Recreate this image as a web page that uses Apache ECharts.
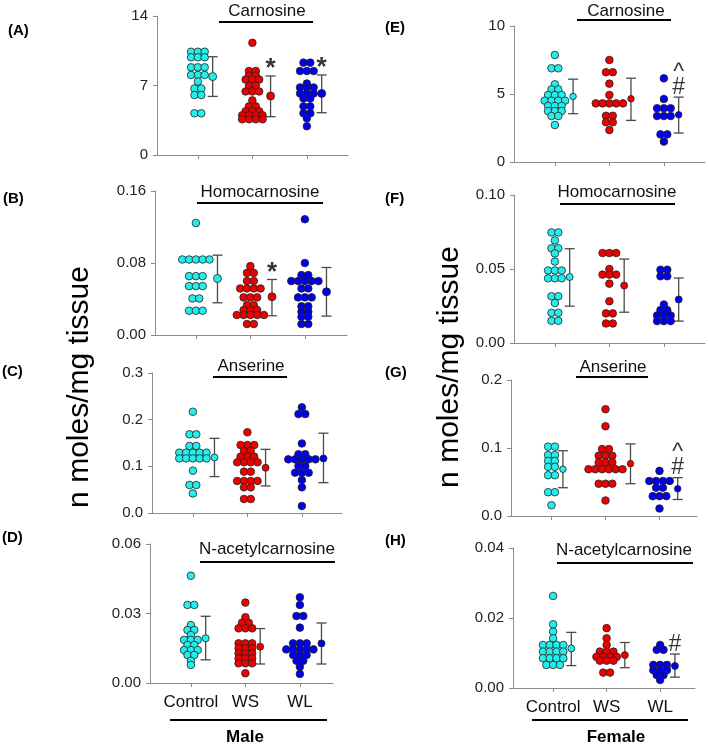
<!DOCTYPE html>
<html><head><meta charset="utf-8">
<script src="https://cdn.jsdelivr.net/npm/echarts@6/dist/echarts.min.js"></script>
<style>html,body{margin:0;padding:0;background:#fff}#c{width:709px;height:745px}</style>
</head><body><div id="c"></div>
<script>
// ---------------- DATA ----------------
const groups = ['Control', 'WS', 'WL'];
const groupColors = ['#22eeee', '#ee0000', '#0000ee'];

const yTicksA = ['0', '7', '14'];
const yTicksB = ['0.00', '0.08', '0.16'];
const yTicksC = ['0.0', '0.1', '0.2', '0.3'];
const yTicksD = ['0.00', '0.03', '0.06'];
const yTicksE = ['0', '5', '10'];
const yTicksF = ['0.00', '0.05', '0.10'];
const yTicksG = ['0.0', '0.1', '0.2'];
const yTicksH = ['0.00', '0.02', '0.04'];

// Male
const A_control = [10.4,10.4,10.4,9.84,9.84,9.84,8.83,8.83,8.83,8.06,8.06,8.06,7.4,6.7,6.7,6.04,6.04,4.2,4.2];
const A_ws = [11.3,8.46,8.46,8.0,8.0,7.6,7.6,7.6,7.0,7.0,6.4,6.4,6.4,5.5,4.9,4.9,4.4,4.4,4.4,4.0,4.0,4.0,4.0,3.6,3.6,3.6,3.6];
const A_wl = [9.3,9.3,8.46,8.46,8.46,7.2,6.8,6.8,6.8,6.2,6.2,6.2,5.7,5.7,4.9,4.9,4.2,4.2,3.7,2.9];
const A_mean = [7.9, 5.94, 6.2];
const A_hi = [9.9, 7.96, 8.06];
const A_lo = [5.9, 3.86, 4.26];
const A_sig = ['', '*', '*'];

const B_control = [0.1245,0.0839,0.0839,0.0839,0.0839,0.0839,0.0654,0.0654,0.0654,0.0543,0.0543,0.0543,0.0406,0.0406,0.027,0.027,0.027];
const B_ws = [0.0765,0.069,0.069,0.060,0.060,0.0517,0.0517,0.0517,0.0517,0.0418,0.0418,0.0418,0.0333,0.0333,0.0277,0.0277,0.0277,0.0222,0.0222,0.0222,0.0222,0.0222,0.0122,0.0122];
const B_wl = [0.1286,0.080,0.0665,0.0665,0.0599,0.0599,0.0599,0.0599,0.0599,0.0517,0.0517,0.0418,0.0418,0.0418,0.032,0.032,0.0259,0.0259,0.0203,0.0203,0.0122,0.0122];
const B_mean = [0.0628, 0.0425, 0.048];
const B_hi = [0.0887, 0.0617, 0.075];
const B_lo = [0.0358, 0.0214, 0.021];
const B_sig = ['', '*', ''];

const C_control = [0.217,0.1686,0.1686,0.1436,0.1436,0.1293,0.1293,0.1293,0.1293,0.1293,0.117,0.117,0.117,0.117,0.117,0.0907,0.06,0.06,0.042];
const C_ws = [0.173,0.1457,0.1457,0.1457,0.1335,0.1335,0.1207,0.1207,0.1207,0.1086,0.1086,0.1086,0.1086,0.0886,0.0886,0.0686,0.0686,0.0686,0.0686,0.055,0.055,0.03,0.03];
const C_wl = [0.2264,0.212,0.212,0.149,0.126,0.126,0.115,0.115,0.115,0.115,0.115,0.1007,0.1007,0.0864,0.0864,0.0864,0.0707,0.055,0.015];
const C_mean = [0.119, 0.097, 0.117];
const C_hi = [0.160, 0.1364, 0.171];
const C_lo = [0.078, 0.0579, 0.065];
const C_sig = ['', '', ''];

const D_control = [0.0463,0.0337,0.0337,0.025,0.0229,0.0229,0.0207,0.0186,0.0186,0.0186,0.0164,0.0164,0.0142,0.0142,0.0142,0.0121,0.0121,0.0096,0.0078];
const D_ws = [0.0347,0.0284,0.026,0.026,0.0236,0.0236,0.0236,0.0171,0.0171,0.0171,0.015,0.015,0.015,0.0128,0.0128,0.0128,0.0106,0.0106,0.0106,0.0085,0.0085,0.0085,0.0042];
const D_wl = [0.037,0.0337,0.0289,0.0289,0.0239,0.0171,0.0171,0.0171,0.0145,0.0145,0.0145,0.0145,0.0145,0.0121,0.0121,0.0121,0.0096,0.0096,0.007,0.0039];
const D_mean = [0.0193, 0.0157, 0.0171];
const D_hi = [0.0288, 0.0235, 0.0259];
const D_lo = [0.010, 0.0082, 0.0082];
const D_sig = ['', '', ''];

// Female
const E_control = [7.87,6.89,6.89,5.71,5.34,5.34,4.93,4.93,4.93,4.51,4.51,4.51,4.51,4.12,4.12,4.12,3.75,3.75,3.75,3.38,3.38,2.72];
const E_ws = [7.5,6.6,6.6,5.76,4.93,4.31,4.31,4.31,4.31,4.31,3.4,3.4,2.92,2.92,2.35];
const E_wl = [6.15,4.63,3.95,3.95,3.95,3.38,3.38,3.38,2.03,2.03,1.5];
const E_mean = [4.82, 4.65, 3.47];
const E_hi = [6.09, 6.16, 4.77];
const E_lo = [3.55, 3.06, 2.13];
const E_sig = ['', '', '^\n#'];

const F_control = [0.0747,0.0747,0.0693,0.064,0.064,0.0605,0.055,0.049,0.049,0.049,0.0437,0.0437,0.0437,0.0316,0.0316,0.027,0.0204,0.0204,0.015,0.015];
const F_ws = [0.0608,0.0608,0.0608,0.050,0.0462,0.0462,0.0462,0.0401,0.0282,0.020,0.020,0.0132,0.0132];
const F_wl = [0.0495,0.0495,0.0451,0.0451,0.026,0.0222,0.0222,0.0186,0.0186,0.0186,0.0148,0.0148,0.0148];
const F_mean = [0.0446, 0.0388, 0.0294];
const F_hi = [0.0637, 0.0567, 0.0439];
const F_lo = [0.0249, 0.0208, 0.0148];
const F_sig = ['', '', ''];

const G_control = [0.102,0.102,0.0896,0.0896,0.081,0.081,0.0723,0.0723,0.060,0.060,0.035,0.035,0.0158];
const G_ws = [0.157,0.132,0.0985,0.0985,0.0886,0.0886,0.0886,0.0787,0.0787,0.0787,0.0688,0.0688,0.0688,0.0688,0.0688,0.0688,0.0475,0.0475,0.0475,0.0228];
const G_wl = [0.0663,0.0515,0.0515,0.0515,0.0515,0.0416,0.0416,0.0292,0.0292,0.0292,0.011];
const G_mean = [0.0688, 0.077, 0.040];
const G_hi = [0.096, 0.106, 0.0564];
const G_lo = [0.0416, 0.0475, 0.0243];
const G_sig = ['', '', '^\n#'];

const H_control = [0.0263,0.0182,0.0161,0.0142,0.0123,0.0123,0.0123,0.0123,0.0104,0.0104,0.0104,0.0104,0.0085,0.0085,0.0085,0.0085,0.0066,0.0066,0.0066];
const H_ws = [0.0171,0.0142,0.0123,0.0104,0.0104,0.0104,0.0089,0.0089,0.0089,0.0089,0.0078,0.0078,0.0078,0.0044,0.0044];
const H_wl = [0.0123,0.0109,0.0109,0.0066,0.0066,0.0066,0.0051,0.0051,0.0051,0.0037,0.0037,0.0023];
const H_mean = [0.0113, 0.0094, 0.0063];
const H_hi = [0.0159, 0.013, 0.0097];
const H_lo = [0.0064, 0.0058, 0.0031];
const H_sig = ['', '', '#'];

const titles = ['Carnosine','Homocarnosine','Anserine','N-acetylcarnosine','Carnosine','Homocarnosine','Anserine','N-acetylcarnosine'];
const letters = ['(A)','(B)','(C)','(D)','(E)','(F)','(G)','(H)'];
const yAxisTitle = 'n moles/mg tissue';
const sexLabels = ['Male', 'Female'];

// ---------------- LAYOUT ----------------
const FONT = 'Liberation Sans, Arial, Helvetica, sans-serif';
const X_MIN = 0.25;
const DOT = 7.6, DOT_GAP = 6.8;
const panels = [
  {ticks:yTicksA, data:[A_control,A_ws,A_wl], mean:A_mean, hi:A_hi, lo:A_lo, sig:A_sig, l:157, t:16, w:191, b:155, sp:54.5, ms:8, lbl:false,
   title:{x:267,y:11,l1:219,l2:313,ly:22}, letter:{x:8,y:31}},
  {ticks:yTicksB, data:[B_control,B_ws,B_wl], mean:B_mean, hi:B_hi, lo:B_lo, sig:B_sig, l:155, t:191, w:192, b:335, sp:54.5, ms:8, lbl:false,
   title:{x:260,y:192,l1:197,l2:323,ly:203}, letter:{x:3,y:199}},
  {ticks:yTicksC, data:[C_control,C_ws,C_wl], mean:C_mean, hi:C_hi, lo:C_lo, sig:C_sig, l:152, t:373, w:190, b:513, sp:54.5, ms:7, lbl:false,
   title:{x:251,y:366,l1:213,l2:287,ly:377}, letter:{x:2,y:372}},
  {ticks:yTicksD, data:[D_control,D_ws,D_wl], mean:D_mean, hi:D_hi, lo:D_lo, sig:D_sig, l:150, t:544, w:183, b:683, sp:54.5, ms:7, lbl:true,
   title:{x:267,y:549,l1:200,l2:335,ly:562}, letter:{x:2,y:538}},
  {ticks:yTicksE, data:[E_control,E_ws,E_wl], mean:E_mean, hi:E_hi, lo:E_lo, sig:E_sig, l:514, t:26, w:191, b:162, sp:54.5, ms:6.5, lbl:false,
   title:{x:626,y:11,l1:577,l2:671,ly:20}, letter:{x:385,y:28}},
  {ticks:yTicksF, data:[F_control,F_ws,F_wl], mean:F_mean, hi:F_hi, lo:F_lo, sig:F_sig, l:514, t:195, w:191, b:343, sp:54.5, ms:7, lbl:false,
   title:{x:617,y:192,l1:560,l2:675,ly:204}, letter:{x:385,y:199}},
  {ticks:yTicksG, data:[G_control,G_ws,G_wl], mean:G_mean, hi:G_hi, lo:G_lo, sig:G_sig, l:511, t:380, w:186, b:516, sp:54, ms:6.5, lbl:false,
   title:{x:613,y:367,l1:576,l2:648,ly:377}, letter:{x:385,y:373}},
  {ticks:yTicksH, data:[H_control,H_ws,H_wl], mean:H_mean, hi:H_hi, lo:H_lo, sig:H_sig, l:513, t:548, w:182, b:688, sp:53.5, ms:7, lbl:true,
   title:{x:624,y:550,l1:557,l2:693,ly:563}, letter:{x:385,y:541}}
];

function swarm(vals, center, sp) {
  const counts = new Map();
  vals.forEach(v => counts.set(v, (counts.get(v) || 0) + 1));
  const idx = new Map();
  return vals.map(v => {
    const n = counts.get(v), i = idx.get(v) || 0;
    idx.set(v, i + 1);
    return [center + (i - (n - 1) / 2) * DOT_GAP / sp, v];
  });
}
function maxRow(vals) {
  const counts = new Map();
  vals.forEach(v => counts.set(v, (counts.get(v) || 0) + 1));
  return Math.max(...counts.values());
}

const grid = [], xAxis = [], yAxis = [], series = [], graphic = [];
panels.forEach((p, pi) => {
  const xMax = X_MIN + p.w / p.sp;
  grid.push({left: p.l, top: p.t, width: p.w, height: p.b - p.t, containLabel: false});
  xAxis.push({
    type: 'value', gridIndex: pi, min: X_MIN, max: xMax,
    axisLine: {show: true, lineStyle: {color: '#8c8c8c', width: 1}},
    axisTick: {show: true, customValues: [1, 2, 3], length: 4, lineStyle: {color: '#8c8c8c'}},
    axisLabel: {show: p.lbl, customValues: [1, 2, 3], margin: 11, fontSize: 17, color: '#111', fontFamily: FONT,
      formatter: v => groups[Math.round(v) - 1] || ''},
    splitLine: {show: false}
  });
  const tickVals = p.ticks.map(Number);
  yAxis.push({
    type: 'value', gridIndex: pi, min: 0, max: tickVals[tickVals.length - 1], interval: tickVals[1],
    axisLine: {show: true, lineStyle: {color: '#8c8c8c', width: 1}},
    axisTick: {show: true, length: 4, lineStyle: {color: '#8c8c8c'}},
    axisLabel: {fontSize: 15, color: '#222', fontFamily: FONT, margin: 9,
      formatter: v => { const k = tickVals.findIndex(t => Math.abs(t - v) < 1e-9); return k >= 0 ? p.ticks[k] : ''; }},
    splitLine: {show: false}
  });
  const meanPts = [], errPts = [], sigPts = [];
  p.data.forEach((vals, gi) => {
    const c = gi + 1;
    series.push({
      type: 'scatter', xAxisIndex: pi, yAxisIndex: pi, symbolSize: DOT,
      itemStyle: {color: groupColors[gi], borderColor: '#222', borderWidth: 0.8, opacity: 1},
      data: swarm(vals, c, p.sp), z: 3, silent: true
    });
    const off = ((maxRow(vals) - 1) / 2 * DOT_GAP + 8) / p.sp;
    meanPts.push({value: [c + off, p.mean[gi]], itemStyle: {color: groupColors[gi]}});
    errPts.push([c + off, p.lo[gi], p.hi[gi]]);
    if (p.sig[gi]) sigPts.push({value: [c + off, p.hi[gi]], sig: p.sig[gi]});
  });
  series.push({
    type: 'custom', xAxisIndex: pi, yAxisIndex: pi, z: 2, silent: true,
    renderItem: (params, api) => {
      const x = api.value(0);
      const a = api.coord([x, api.value(2)]), b = api.coord([x, api.value(1)]);
      const st = {stroke: '#4a4a4a', lineWidth: 1.3};
      return {type: 'group', children: [
        {type: 'line', shape: {x1: a[0], y1: a[1], x2: b[0], y2: b[1]}, style: st},
        {type: 'line', shape: {x1: a[0] - 5, y1: a[1], x2: a[0] + 5, y2: a[1]}, style: st},
        {type: 'line', shape: {x1: b[0] - 5, y1: b[1], x2: b[0] + 5, y2: b[1]}, style: st}
      ]};
    },
    data: errPts
  });
  series.push({
    type: 'scatter', xAxisIndex: pi, yAxisIndex: pi, symbolSize: p.ms, z: 4, silent: true,
    itemStyle: {borderColor: '#222', borderWidth: 0.8, opacity: 1},
    data: meanPts
  });
  if (sigPts.length) {
    series.push({
      type: 'scatter', xAxisIndex: pi, yAxisIndex: pi, symbolSize: 0, z: 5, silent: true,
      data: sigPts.map(s => ({value: s.value, label: {show: true, formatter: s.sig,
        fontWeight: s.sig === '*' ? 'bold' : 'normal', fontSize: s.sig === '*' ? 26 : 23,
        lineHeight: s.sig === '*' ? 26 : 15, position: 'top', distance: s.sig === '*' ? -6 : 2, color: '#000', fontFamily: FONT}}))
    });
  }
  graphic.push({type: 'text', x: p.title.x, y: p.title.y, style: {text: titles[pi], fontSize: 17, fontFamily: FONT, fill: '#111', align: 'center', verticalAlign: 'middle'}});
  graphic.push({type: 'line', shape: {x1: p.title.l1, y1: p.title.ly, x2: p.title.l2, y2: p.title.ly}, style: {stroke: '#000', lineWidth: 2}});
  graphic.push({type: 'text', x: p.letter.x, y: p.letter.y, style: {text: letters[pi], fontSize: 15, fontWeight: 'bold', fontFamily: FONT, fill: '#000', align: 'left', verticalAlign: 'middle'}});
});

graphic.push({type: 'text', x: 80, y: 387, rotation: Math.PI / 2, style: {text: yAxisTitle, fontSize: 30, fontFamily: FONT, fill: '#000', align: 'center', verticalAlign: 'middle'}});
graphic.push({type: 'text', x: 450, y: 367, rotation: Math.PI / 2, style: {text: yAxisTitle, fontSize: 30, fontFamily: FONT, fill: '#000', align: 'center', verticalAlign: 'middle'}});
graphic.push({type: 'line', shape: {x1: 170, y1: 720, x2: 327, y2: 720}, style: {stroke: '#000', lineWidth: 2}});
graphic.push({type: 'line', shape: {x1: 532, y1: 720, x2: 688, y2: 720}, style: {stroke: '#000', lineWidth: 2}});
graphic.push({type: 'text', x: 245, y: 737, style: {text: sexLabels[0], fontSize: 17, fontWeight: 'bold', fontFamily: FONT, fill: '#000', align: 'center', verticalAlign: 'middle'}});
graphic.push({type: 'text', x: 616, y: 737, style: {text: sexLabels[1], fontSize: 17, fontWeight: 'bold', fontFamily: FONT, fill: '#000', align: 'center', verticalAlign: 'middle'}});

const chart = echarts.init(document.getElementById('c'), null, {renderer: 'canvas'});
chart.setOption({animation: false, backgroundColor: '#fff', grid, xAxis, yAxis, series, graphic});
</script></body></html>
